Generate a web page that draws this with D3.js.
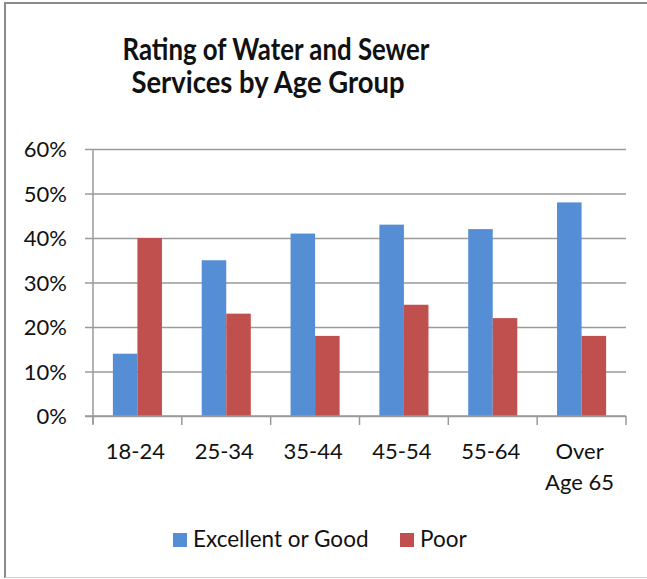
<!DOCTYPE html>
<html>
<head>
<meta charset="utf-8">
<script src="https://cdn.jsdelivr.net/npm/d3@7"></script>
<style>
  html, body { margin: 0; padding: 0; background: #fff; }
  svg { display: block; }
  text { font-family: Lato, "Open Sans", sans-serif; fill: #111; }
</style>
</head>
<body>
<svg id="chart" width="647" height="579"></svg>
<script>
const categories = ["18-24", "25-34", "35-44", "45-54", "55-64", "Over Age 65"];
const seriesNames = ["Excellent or Good", "Poor"];
const excellentOrGood = [0.14, 0.35, 0.41, 0.43, 0.42, 0.48];
const poor = [0.40, 0.23, 0.18, 0.25, 0.22, 0.18];
const yTicks = [0, 0.1, 0.2, 0.3, 0.4, 0.5, 0.6];
const titleLines = ["Rating of Water and Sewer", "Services by Age Group"];
const colors = ["#558ED5", "#C0504D"];

const series = [excellentOrGood, poor];
const svg = d3.select("#chart");

// Outer chart frame
svg.append("line").attr("x1", 4).attr("x2", 647).attr("y1", 3).attr("y2", 3)
  .attr("stroke", "#8a8a8a").attr("stroke-width", 2);
svg.append("line").attr("x1", 5).attr("x2", 5).attr("y1", 3).attr("y2", 578)
  .attr("stroke", "#8a8a8a").attr("stroke-width", 2);
svg.append("line").attr("x1", 5).attr("x2", 647).attr("y1", 577.5).attr("y2", 577.5)
  .attr("stroke", "#d0d0d0").attr("stroke-width", 1);

const plot = { left: 93, right: 626, top: 149, bottom: 416 };

const y = d3.scaleLinear().domain([0, 0.6]).range([plot.bottom, plot.top]);
const x0 = d3.scaleBand().domain(categories).range([plot.left, plot.right]).paddingInner(0).paddingOuter(0);
const x1 = d3.scaleBand().domain(seriesNames).range([0, x0.bandwidth()]).paddingInner(0).paddingOuter(0.81);

// Title
const titleWidths = [307, 273];
const titleCenters = [276, 268];
titleLines.forEach((t, i) => {
  svg.append("text").attr("text-anchor", "middle")
    .style("font-weight", "bold").style("font-size", "30px")
    .attr("x", titleCenters[i]).attr("y", 60 + i * 33)
    .attr("textLength", titleWidths[i]).attr("lengthAdjust", "spacingAndGlyphs")
    .text(t);
});

// Gridlines + y axis
const yAxis = d3.axisLeft(y).tickValues(yTicks).tickSize(-(plot.right - plot.left)).tickPadding(0).tickFormat(d3.format(".0%"));
const gy = svg.append("g").attr("transform", `translate(${plot.left},0)`).call(yAxis);
gy.select(".domain").remove();
gy.selectAll(".tick line").attr("stroke", "#9a9a9a").attr("stroke-width", 1.5).attr("x1", -8);
gy.selectAll(".tick text").attr("x", -26).attr("dy", "0.35em")
  .style("font-size", "22px").style("font-family", "Lato, sans-serif").attr("fill", "#111");

svg.append("line").attr("x1", plot.left).attr("x2", plot.left)
  .attr("y1", plot.top).attr("y2", plot.bottom + 8)
  .attr("stroke", "#9a9a9a").attr("stroke-width", 1.5);

// Bars
const groups = svg.append("g").selectAll("g").data(categories).join("g")
  .attr("transform", d => `translate(${x0(d)},0)`);
groups.selectAll("rect")
  .data((d, i) => seriesNames.map((s, j) => ({ s, v: series[j][i], c: colors[j] })))
  .join("rect")
  .attr("x", d => x1(d.s))
  .attr("width", x1.bandwidth())
  .attr("y", d => y(d.v))
  .attr("height", d => y(0) - y(d.v))
  .attr("fill", d => d.c);

// X axis line and boundary ticks
svg.append("line").attr("x1", plot.left - 8).attr("x2", plot.right).attr("y1", plot.bottom).attr("y2", plot.bottom)
  .attr("stroke", "#9a9a9a").attr("stroke-width", 1.5);
const boundaries = categories.map(c => x0(c)).concat([x0(categories[categories.length - 1]) + x0.bandwidth()]);
svg.append("g").selectAll("line").data(boundaries).join("line")
  .attr("x1", d => d).attr("x2", d => d)
  .attr("y1", plot.bottom).attr("y2", plot.bottom + 9)
  .attr("stroke", "#9a9a9a").attr("stroke-width", 1.5);

// X labels
const xl = svg.append("g").selectAll("text").data(categories).join("text")
  .attr("text-anchor", "middle").style("font-size", "22px")
  .attr("x", d => x0(d) + x0.bandwidth() / 2 - 2)
  .attr("y", 459);
xl.each(function (d) {
  const words = d === "Over Age 65" ? ["Over", "Age 65"] : [d];
  const t = d3.select(this);
  words.forEach((w, i) => {
    t.append("tspan").attr("x", x0(d) + x0.bandwidth() / 2 - 2).attr("dy", i === 0 ? 0 : 31).text(w);
  });
});

// Legend
const legendItems = [
  { name: seriesNames[0], color: colors[0], x: 173 },
  { name: seriesNames[1], color: colors[1], x: 400 }
];
const lg = svg.append("g").selectAll("g").data(legendItems).join("g")
  .attr("transform", d => `translate(${d.x},533)`);
lg.append("rect").attr("width", 14).attr("height", 14).attr("fill", d => d.color);
lg.append("text").attr("x", 20).attr("y", 14).style("font-size", "22.5px").text(d => d.name);
</script>
</body>
</html>
